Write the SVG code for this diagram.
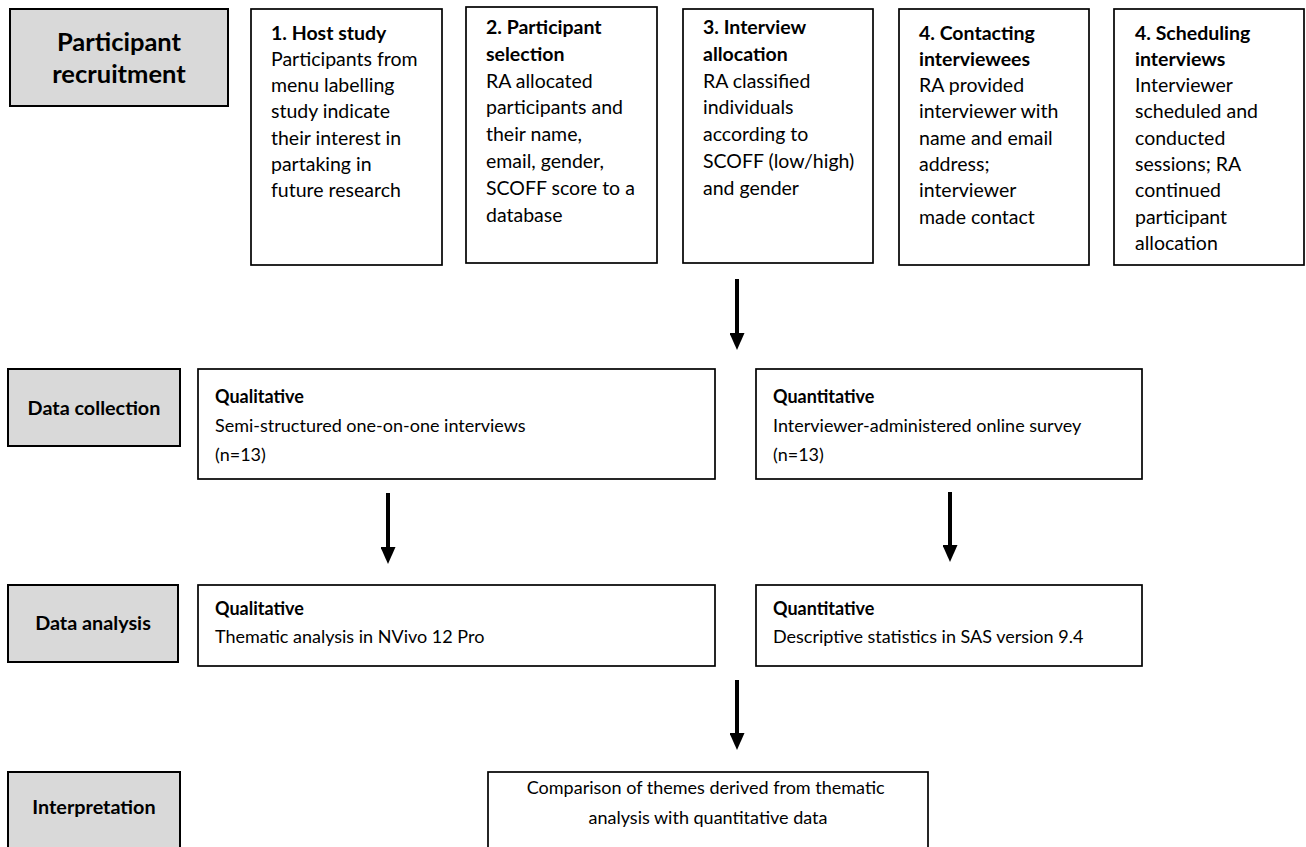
<svg xmlns="http://www.w3.org/2000/svg" width="1306" height="847" viewBox="0 0 1306 847">
<defs>
<style>
text{font-family:Lato,"Liberation Sans",sans-serif;fill:#000}
.gray{fill:#d9d9d9;stroke:#000;stroke-width:2}
.box{fill:#fff;stroke:#000;stroke-width:1.7}
.lbl{font-weight:bold;text-anchor:middle;font-size:19.8px}
.big{font-size:25.5px}
.t1{font-size:19.5px}
.t2{font-size:18px}
.b{font-weight:bold}
.arrow{stroke:#000;stroke-width:4;fill:none;marker-end:url(#ah)}
</style>
<marker id="ah" viewBox="0 0 17 15" refX="1" refY="7.5" markerWidth="17" markerHeight="15" markerUnits="userSpaceOnUse" orient="auto">
<path d="M0,0 L17,7.5 L0,15 z" fill="#000"/>
</marker>
</defs>
<rect width="1306" height="847" fill="#fff"/>

<g id="lbl-recruitment">
<rect class="gray" x="10" y="9" width="218" height="97"/>
<text class="lbl big" x="119" y="51">Participant</text>
<text class="lbl big" x="119" y="83">recruitment</text>
</g>

<g id="step1">
<rect class="box" x="251" y="9" width="191" height="256"/>
<text class="t1" x="271">
<tspan class="b" x="271" y="39.5">1. Host study</tspan>
<tspan x="271" y="65.8">Participants from</tspan>
<tspan x="271" y="92.1">menu labelling</tspan>
<tspan x="271" y="118.4">study indicate</tspan>
<tspan x="271" y="144.7">their interest in</tspan>
<tspan x="271" y="171">partaking in</tspan>
<tspan x="271" y="197.3">future research</tspan>
</text>
</g>

<g id="step2">
<rect class="box" x="466" y="7" width="191" height="256"/>
<text class="t1">
<tspan class="b" x="486" y="34">2. Participant</tspan>
<tspan class="b" x="486" y="60.8">selection</tspan>
<tspan x="486" y="87.6">RA allocated</tspan>
<tspan x="486" y="114.4">participants and</tspan>
<tspan x="486" y="141.2">their name,</tspan>
<tspan x="486" y="168">email, gender,</tspan>
<tspan x="486" y="194.8">SCOFF score to a</tspan>
<tspan x="486" y="221.6">database</tspan>
</text>
</g>

<g id="step3">
<rect class="box" x="683" y="9" width="190" height="254"/>
<text class="t1">
<tspan class="b" x="703" y="34">3. Interview</tspan>
<tspan class="b" x="703" y="60.8">allocation</tspan>
<tspan x="703" y="87.6">RA classified</tspan>
<tspan x="703" y="114.4">individuals</tspan>
<tspan x="703" y="141.2">according to</tspan>
<tspan x="703" y="168">SCOFF (low/high)</tspan>
<tspan x="703" y="194.8">and gender</tspan>
</text>
</g>

<g id="step4">
<rect class="box" x="899" y="9" width="190" height="256"/>
<text class="t1">
<tspan class="b" x="919" y="39.5">4. Contacting</tspan>
<tspan class="b" x="919" y="65.8">interviewees</tspan>
<tspan x="919" y="92.1">RA provided</tspan>
<tspan x="919" y="118.4">interviewer with</tspan>
<tspan x="919" y="144.7">name and email</tspan>
<tspan x="919" y="171">address;</tspan>
<tspan x="919" y="197.3">interviewer</tspan>
<tspan x="919" y="223.6">made contact</tspan>
</text>
</g>

<g id="step5">
<rect class="box" x="1114" y="9" width="190" height="256"/>
<text class="t1">
<tspan class="b" x="1135" y="39.5">4. Scheduling</tspan>
<tspan class="b" x="1135" y="65.8">interviews</tspan>
<tspan x="1135" y="92.1">Interviewer</tspan>
<tspan x="1135" y="118.4">scheduled and</tspan>
<tspan x="1135" y="144.7">conducted</tspan>
<tspan x="1135" y="171">sessions; RA</tspan>
<tspan x="1135" y="197.3">continued</tspan>
<tspan x="1135" y="223.6">participant</tspan>
<tspan x="1135" y="249.9">allocation</tspan>
</text>
</g>

<g id="lbl-collection">
<rect class="gray" x="8" y="369" width="172" height="77"/>
<text class="lbl" x="94" y="415">Data collection</text>
</g>

<g id="collect-qual">
<rect class="box" x="198" y="369" width="517" height="110"/>
<text class="t2">
<tspan class="b" x="215" y="403">Qualitative</tspan>
<tspan x="215" y="432">Semi-structured one-on-one interviews</tspan>
<tspan x="215" y="461">(n=13)</tspan>
</text>
</g>

<g id="collect-quant">
<rect class="box" x="756" y="369" width="386" height="110"/>
<text class="t2">
<tspan class="b" x="773" y="403">Quantitative</tspan>
<tspan x="773" y="432">Interviewer-administered online survey</tspan>
<tspan x="773" y="461">(n=13)</tspan>
</text>
</g>

<g id="lbl-analysis">
<rect class="gray" x="8" y="585" width="170" height="77"/>
<text class="lbl" x="93" y="630">Data analysis</text>
</g>

<g id="analysis-qual">
<rect class="box" x="198" y="585" width="517" height="81"/>
<text class="t2">
<tspan class="b" x="215" y="615">Qualitative</tspan>
<tspan x="215" y="643">Thematic analysis in NVivo 12 Pro</tspan>
</text>
</g>

<g id="analysis-quant">
<rect class="box" x="756" y="585" width="386" height="81"/>
<text class="t2">
<tspan class="b" x="773" y="615">Quantitative</tspan>
<tspan x="773" y="643">Descriptive statistics in SAS version 9.4</tspan>
</text>
</g>

<g id="lbl-interpretation">
<rect class="gray" x="8" y="772" width="172" height="82"/>
<text class="lbl" x="94" y="814">Interpretation</text>
</g>

<g id="comparison">
<rect class="box" x="488" y="772" width="440" height="82"/>
<text class="t2" text-anchor="middle">
<tspan x="708" y="794">Comparison of themes derived from thematic</tspan>
<tspan x="708" y="824">analysis with quantitative data</tspan>
</text>
</g>

<g id="connectors">
<line class="arrow" x1="737" y1="279" x2="737" y2="334"/>
<line class="arrow" x1="388" y1="493" x2="388" y2="548"/>
<line class="arrow" x1="950" y1="492" x2="950" y2="546"/>
<line class="arrow" x1="737" y1="680" x2="737" y2="734"/>
</g>
</svg>
